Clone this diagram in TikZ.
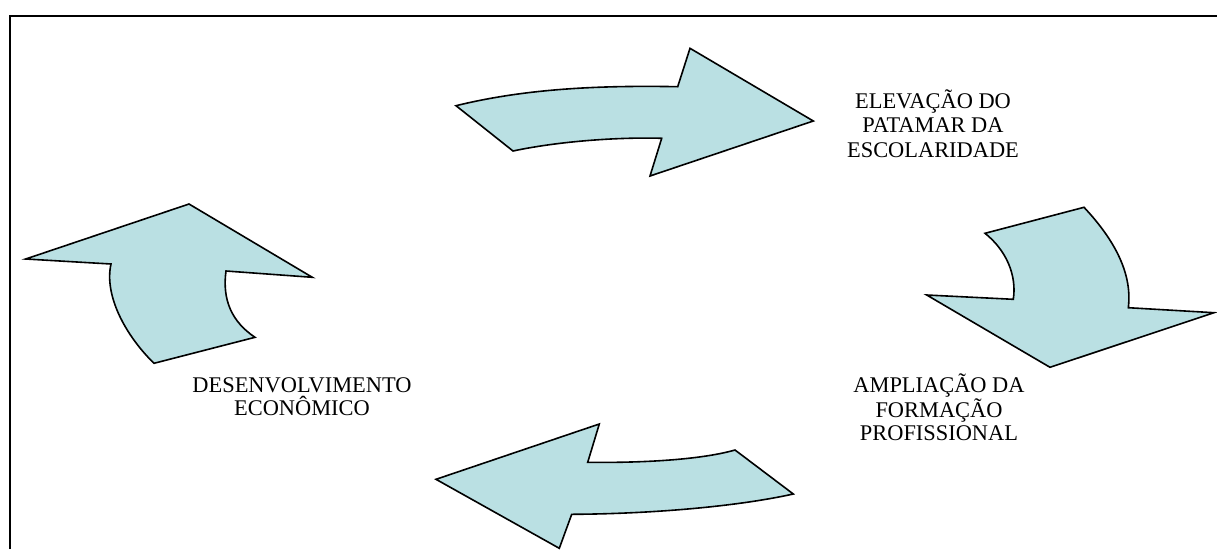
\documentclass[tikz,border=0pt]{standalone}
\usepackage{fontspec}
\setmainfont{Liberation Serif}
\definecolor{arrowfill}{RGB}{186,224,227}
\begin{document}
\begin{tikzpicture}[x=1pt,y=-1pt,
  bigarrow/.style={draw=black,line width=1.6pt,fill=arrowfill,line join=miter},
  label/.style={inner sep=0pt,align=center,anchor=base}]
\useasboundingbox (0,0) rectangle (1217,549);
\fill[white] (0,0) rectangle (1217,549);
% frame
\coordinate (fbl) at (10,549);
\coordinate (ftl) at (10,15.7);
\coordinate (ftr) at (1217,15.7);
\draw[line width=2pt] (fbl) -- (ftl) -- (ftr);
% top arrow (right)
\draw[bigarrow] (456,105.7) .. controls (520,90) and (590,85) .. (677.7,86.7)
  -- (690,48.3) -- (813.3,121) -- (650,176) -- (661.7,138.3)
  .. controls (620,137) and (560,141) .. (513,151) -- cycle;
% right arrow (down)
\draw[bigarrow] (985,233.3) -- (1084,207.3)
  .. controls (1110,235) and (1133,270) .. (1128.3,307.7)
  -- (1214,312.7) -- (1050,367.3) -- (926.7,295) -- (1013.3,299.3)
  .. controls (1017,275) and (1006,250) .. (985,233.3) -- cycle;
% bottom arrow (left)
\draw[bigarrow] (735,450) -- (793.3,494)
  .. controls (730,508) and (640,514) .. (571.7,514.3)
  -- (559.3,548.3) -- (436,479.3) -- (599.3,424) -- (587.7,462.3)
  .. controls (640,463) and (700,460) .. (735,450) -- cycle;
% left arrow (up)
\draw[bigarrow] (189,204) -- (312.3,277.3) -- (226,271)
  .. controls (222,300) and (232,322) .. (255,337.3)
  -- (154,363.3) .. controls (125,335) and (104,295) .. (111,264)
  -- (25.7,259) -- cycle;
% labels
\node[label,font=\fontsize{22.4}{24.5}\selectfont] (elev) at (933,157.3) {ELEVAÇÃO DO\\PATAMAR DA\\ESCOLARIDADE};
\node[label,font=\fontsize{22.4}{23}\selectfont] (ampl) at (939,440) {AMPLIAÇÃO DA\\FORMAÇÃO\\PROFISSIONAL};
\node[label,font=\fontsize{22.4}{22.5}\selectfont] (dese) at (302,415) {DESENVOLVIMENTO\\ECONÔMICO};
\end{tikzpicture}
\end{document}
